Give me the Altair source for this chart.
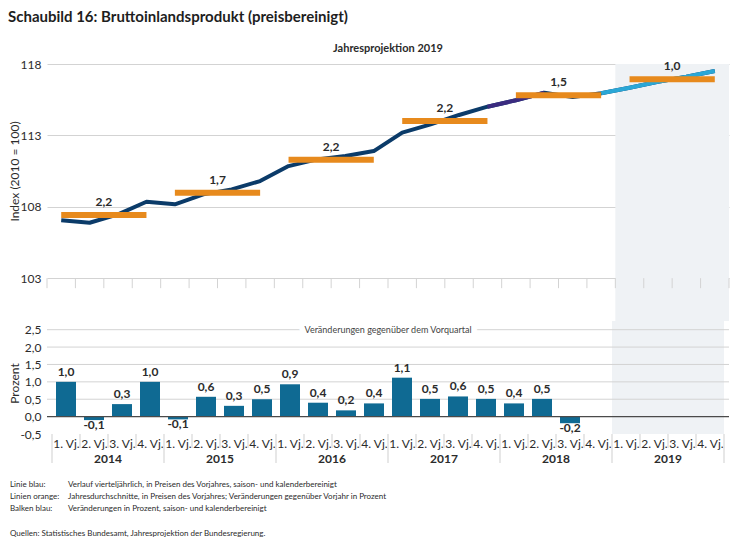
import altair as alt
import pandas as pd

# ---------------- data ----------------
years = [2014, 2015, 2016, 2017, 2018, 2019]
quarter_names = ["1. Vj.", "2. Vj.", "3. Vj.", "4. Vj."]

# quarterly index (2010 = 100), 2014 Q1 ... 2019 Q4
index_values = [107.05, 106.88, 107.47, 108.35,
                108.17, 108.87, 109.22, 109.80,
                110.85, 111.32, 111.55, 111.90,
                113.19, 113.77, 114.43, 115.01,
                115.46, 115.99, 115.68, 115.95,
                116.34, 116.76, 117.11, 117.51]

# annual averages and annual growth labels
annual_avg = [107.42, 108.98, 111.29, 114.00, 115.81, 116.93]
annual_labels = ["2,2", "1,7", "2,2", "2,2", "1,5", "1,0"]

# quarter-on-quarter change (%), 2014 Q1 ... 2018 Q3
qoq_values = [1.00, -0.10, 0.36, 1.00,
              -0.08, 0.57, 0.31, 0.50,
              0.93, 0.40, 0.18, 0.38,
              1.12, 0.51, 0.58, 0.51,
              0.38, 0.51, -0.19]
qoq_labels = ["1,0", "-0,1", "0,3", "1,0",
              "-0,1", "0,6", "0,3", "0,5",
              "0,9", "0,4", "0,2", "0,4",
              "1,1", "0,5", "0,6", "0,5",
              "0,4", "0,5", "-0,2"]

top_y_ticks = [103, 108, 113, 118]
bot_y_ticks = [-0.5, 0.0, 0.5, 1.0, 1.5, 2.0, 2.5]
bot_grid = [0.5, 1.0, 1.5, 2.0, 2.5]

footnote_keys = ["Linie blau:", "Linien orange:", "Balken blau:"]
footnote_texts = [
    "Verlauf vierteljährlich, in Preisen des Vorjahres, saison- und kalenderbereinigt",
    "Jahresdurchschnitte, in Preisen des Vorjahres; Veränderungen gegenüber Vorjahr in Prozent",
    "Veränderungen in Prozent, saison- und kalenderbereinigt",
]
source_text = "Quellen: Statistisches Bundesamt, Jahresprojektion der Bundesregierung."
panel_note = "Veränderungen gegenüber dem Vorquartal"

# ---------------- style ----------------
FONT = "Lato"
TXT = "#2b2b2b"
GRID = "#d3d3d3"
NAVY = "#0b3b69"
PURPLE = "#3b2b80"
CYAN = "#2aa7d6"
ORANGE = "#e78a1d"
BAR = "#0f6a93"
SHADE = "#eff2f5"

W = 682
H_TOP = 257
H_BOT = 113
XDOM = [0, 24]

# ---------------- frames ----------------
n_q = len(index_values)
df_idx = pd.DataFrame({"x": [i + 0.5 for i in range(n_q)], "v": index_values, "i": list(range(n_q))})
df_ann = pd.DataFrame({
    "x0": [k * 4 + 0.5 for k in range(len(years))],
    "x1": [k * 4 + 3.5 for k in range(len(years))],
    "xc": [k * 4 + 2 for k in range(len(years))],
    "v": annual_avg,
    "lab": annual_labels,
})
df_qoq = pd.DataFrame({"x": [i + 0.5 for i in range(len(qoq_values))], "v": qoq_values, "lab": qoq_labels})
df_shade = pd.DataFrame({"x0": [20], "x1": [24]})
df_bound = pd.DataFrame({"x": list(range(25))})
df_bound["year_edge"] = df_bound["x"] % 4 == 0
df_years = pd.DataFrame({"x": [k * 4 + 2 for k in range(len(years))], "lab": [str(y) for y in years]})
df_grid = pd.DataFrame({"v": bot_grid})
df_zero = pd.DataFrame({"v": [0.0]})
df_note = pd.DataFrame({"x": [12], "v": [2.5], "lab": [panel_note]})

# ---------------- shared encodings ----------------
top_x_axis = None
q_axis = alt.Axis(values=[i + 0.5 for i in range(24)], grid=False, domain=False, ticks=False,
                  labelExpr="(floor(datum.value) % 4 + 1) + '. Vj.'", labelFontSize=12,
                  labelColor=TXT, labelPadding=4, labelOverlap=False)

top_axis = alt.Axis(values=top_y_ticks, grid=True, gridColor=GRID, domain=False, ticks=False,
                    labelPadding=6, labelFontSize=12, labelColor=TXT, minExtent=24, maxExtent=24,
                    titleFontSize=12, titleFontWeight="normal", titleColor=TXT, titlePadding=2,
                    titleY=107)

bot_axis = alt.Axis(values=bot_y_ticks, grid=False, domain=False, ticks=False, labelOverlap=False,
                    labelExpr="replace(replace(format(datum.value, '.1f'), '.', ','), '\u2212', '-')",
                    labelPadding=6, labelFontSize=12, labelColor=TXT, minExtent=24, maxExtent=24,
                    titleFontSize=12, titleFontWeight="normal", titleColor=TXT, titlePadding=2,
                    titleY=62)


def xt(field="x"):
    return alt.X(field, type="quantitative", scale=alt.Scale(domain=XDOM, nice=False, zero=False),
                 axis=top_x_axis, title=None)


def xb(field="x"):
    return alt.X(field, type="quantitative", scale=alt.Scale(domain=XDOM, nice=False, zero=False),
                 axis=q_axis, title=None)


def yt(field="v"):
    return alt.Y(field, type="quantitative", scale=alt.Scale(domain=[100, 118], nice=False, zero=False),
                 axis=top_axis, title="Index (2010 = 100)")


def yb(field="v"):
    return alt.Y(field, type="quantitative", scale=alt.Scale(domain=[-0.5, 2.75], nice=False, zero=False),
                 axis=bot_axis, title="Prozent")


# ---------------- top panel ----------------
t_shade = alt.Chart(df_shade).mark_rect(color=SHADE).encode(
    x=xt("x0"), x2="x1", y=alt.value(0), y2=alt.value(H_TOP))
t_ticks = alt.Chart(df_bound).mark_rule(color=GRID, strokeWidth=1).encode(
    x=xt(), y=alt.datum(103), y2=alt.datum(102.3))
t_line = alt.Chart(df_idx).mark_line(color=NAVY, strokeWidth=4, strokeJoin="round").encode(
    x=xt(), y=yt())
t_purple = alt.Chart(df_idx).transform_filter("datum.i >= 15 && datum.i <= 17").mark_line(
    color=PURPLE, strokeWidth=4, strokeJoin="round").encode(x=xt(), y=yt())
t_cyan = alt.Chart(df_idx).transform_filter("datum.i >= 19").mark_line(
    color=CYAN, strokeWidth=4, strokeJoin="round").encode(x=xt(), y=yt())
t_avg = alt.Chart(df_ann).mark_rule(color=ORANGE, strokeWidth=6).encode(
    x=xt("x0"), x2="x1", y=yt())
t_lab = alt.Chart(df_ann).mark_text(fontSize=12, fontWeight="bold", color=TXT, baseline="bottom", dy=-6).encode(
    x=xt("xc"), y=yt(), text="lab:N")

top = alt.layer(t_shade, t_ticks, t_line, t_purple, t_cyan, t_avg, t_lab).properties(
    width=W, height=H_TOP,
    title=alt.TitleParams("Jahresprojektion 2019", anchor="middle", frame="group", fontSize=11,
                          fontWeight="bold", color=TXT, offset=4))

# ---------------- bottom panel ----------------
b_shade = alt.Chart(df_shade).mark_rect(color=SHADE).encode(
    x=xb("x0"), x2="x1", y=alt.value(0), y2=alt.value(H_BOT))
b_grid = alt.Chart(df_grid).mark_rule(color=GRID, strokeWidth=1).encode(y=yb())
b_bars = alt.Chart(df_qoq).mark_bar(size=20, color=BAR).encode(x=xb(), y=yb())
b_zero = alt.Chart(df_zero).mark_rule(color="#4a4a4a", strokeWidth=1.2).encode(y=yb())
b_lab_pos = alt.Chart(df_qoq).transform_filter("datum.v >= 0").mark_text(
    fontSize=12, fontWeight="bold", color=TXT, baseline="bottom", dy=-3).encode(
    x=xb(), y=yb(), text="lab:N")
b_lab_neg = alt.Chart(df_qoq).transform_filter("datum.v < 0").mark_text(
    fontSize=12, fontWeight="bold", color=TXT, baseline="top", dy=0).encode(
    x=xb(), y=yb(), text="lab:N")
b_halo = alt.Chart(df_note).mark_text(fontSize=9, color="white", stroke="white", strokeWidth=12,
                                       strokeJoin="round").encode(x=xb(), y=yb(), text="lab:N")
b_note = alt.Chart(df_note).mark_text(fontSize=9, color="#444444").encode(
    x=xb(), y=yb(), text="lab:N")
b_sep_q = alt.Chart(df_bound).transform_filter("!datum.year_edge").mark_rule(color="#cfcfcf").encode(
    x=xb(), y=alt.value(H_BOT), y2=alt.value(H_BOT + 14))
b_sep_y = alt.Chart(df_bound).transform_filter("datum.year_edge").mark_rule(color="#cfcfcf").encode(
    x=xb(), y=alt.value(H_BOT), y2=alt.value(H_BOT + 29))
b_years = alt.Chart(df_years).mark_text(fontSize=12, fontWeight="bold", color=TXT, baseline="middle").encode(
    x=xb(), y=alt.value(H_BOT + 25), text="lab:N")

foot_layers = []
for k, (key, txt) in enumerate(zip(footnote_keys, footnote_texts)):
    d = pd.DataFrame({"key": [key], "txt": [txt]})
    yy = 164 + 12 * k
    foot_layers.append(alt.Chart(d).mark_text(align="left", baseline="middle", fontSize=8, color=TXT).encode(
        x=alt.value(-37), y=alt.value(yy), text="key:N"))
    foot_layers.append(alt.Chart(d).mark_text(align="left", baseline="middle", fontSize=8, color=TXT).encode(
        x=alt.value(21), y=alt.value(yy), text="txt:N"))
d_src = pd.DataFrame({"txt": [source_text]})
foot_layers.append(alt.Chart(d_src).mark_text(align="left", baseline="middle", fontSize=8, color=TXT).encode(
    x=alt.value(-37), y=alt.value(213), text="txt:N"))

bottom = alt.layer(b_shade, b_grid, b_bars, b_zero, b_lab_pos, b_lab_neg, b_halo, b_note,
                   b_sep_q, b_sep_y, b_years, *foot_layers).properties(width=W, height=H_BOT)

chart = alt.vconcat(top, bottom, spacing=0).properties(
    title=alt.TitleParams("Schaubild 16: Bruttoinlandsprodukt (preisbereinigt)", anchor="start",
                          frame="bounds", fontSize=15, fontWeight="bold", color="#1e1e1e", offset=18),
    padding={"left": 0, "top": 2, "right": 4, "bottom": 0},
).configure(font=FONT).configure_view(stroke=None)

chart.save("out.html", embed_options={"renderer": "svg", "actions": False})
